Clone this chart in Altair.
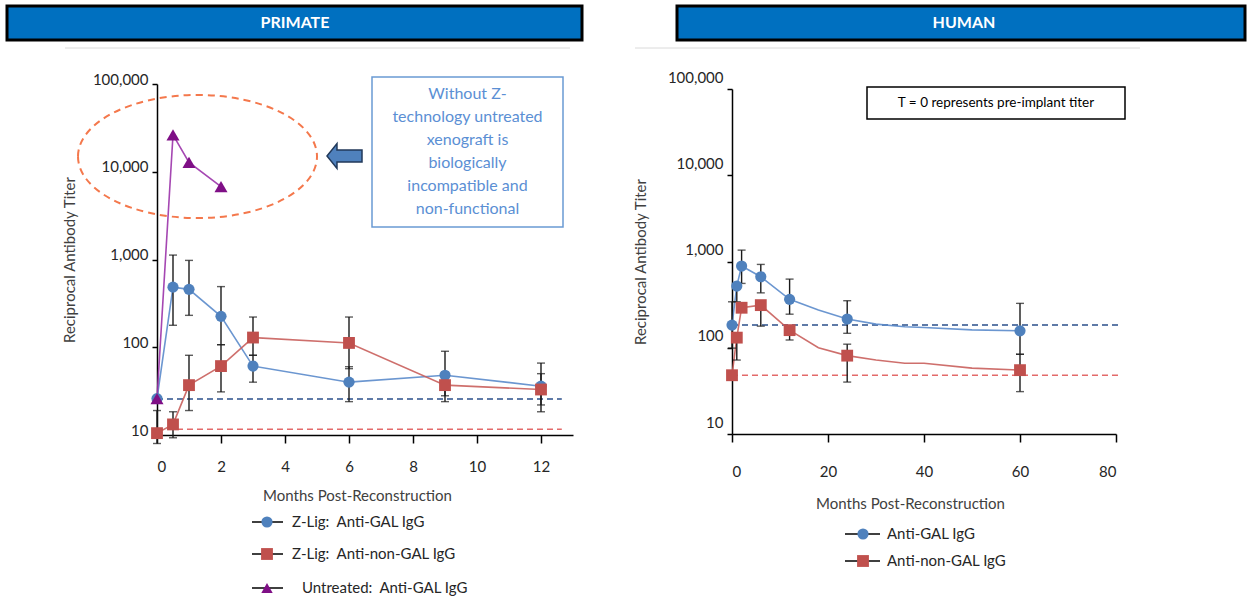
import altair as alt
import pandas as pd

# ---------------- PRIMATE panel data ----------------
p_months = [0, 0.5, 1, 2, 3, 6, 9, 12]
p_gal = [26, 484, 457, 225, 61, 40, 48, 36]
p_gal_lo = [26, 178, 231, 107, 40, 24, 28, 22]
p_gal_hi = [26, 1123, 977, 491, 81, 60, 90, 66]
p_nongal = [10.5, 13.2, 37, 61, 129, 112, 37, 33]
p_nongal_lo = [8, 9.3, 19, 31, 81, 57, 24, 18.4]
p_nongal_hi = [19, 18.4, 81, 107, 221, 221, 52, 50]
u_months = [0, 0.5, 1, 2]
u_gal = [26, 26300, 12800, 6760]
p_baselines = [25.7, 11.6]          # Anti-GAL, Anti-non-GAL pre-implant levels
p_baseline_span = [0, 12.65]
p_xticks = [0, 2, 4, 6, 8, 10, 12]
p_legend = ["Z-Lig:\u00a0 Anti-GAL IgG", "Z-Lig:\u00a0 Anti-non-GAL IgG", "Untreated:\u00a0 Anti-GAL IgG"]

# ---------------- HUMAN panel data ----------------
h_months = [0, 1, 2, 6, 12, 24, 60]
h_gal = [183, 519, 885, 665, 364, 215, 157]
h_gal_lo = [99, 341, 557, 433, 245, 147, 84]
h_gal_hi = [341, 519, 1355, 925, 625, 351, 327]
h_nongal = [48, 131, 291, 312, 160, 81, 55]
h_nongal_lo = [48, 72, 291, 178, 123, 40, 31]
h_nongal_hi = [48, 131, 291, 312, 160, 110, 84]
h_path_months = [0, 1, 2, 6, 12, 18, 24, 30, 36, 40, 50, 60]
h_gal_path = [183, 519, 885, 665, 364, 274, 215, 188, 175, 172, 161, 157]
h_nongal_path = [48, 131, 291, 312, 160, 100, 81, 72, 66, 66, 58, 55]
h_baselines = [183, 48]
h_baseline_span = [0, 81]
h_xticks = [0, 20, 40, 60, 80]
h_legend = ["Anti-GAL IgG", "Anti-non-GAL IgG"]

y_ticks = [10, 100, 1000, 10000, 100000]

BLUE = "#4F81BD"
RED = "#C0504D"
PURPLE = "#7F0F86"
PURPLE_LINE = "#9B33AA"
FONT = "Lato"
ERR = "#1a1a1a"

# ---------------- scales / axes ----------------
LX_SCALE = alt.Scale(domain=[0, 13], range=[157, 573], nice=False, zero=False)
LY_SCALE = alt.Scale(type="log", domain=[10, 100000], range=[435, 84], nice=False)
RX_SCALE = alt.Scale(domain=[0, 80], range=[732, 1116], nice=False, zero=False)
RY_SCALE = alt.Scale(type="log", domain=[10, 100000], range=[434, 89], nice=False)

LX_AXIS = alt.Axis(orient="bottom", values=p_xticks, title="Months Post-Reconstruction",
                   titleX=357, titleY=60, titleBaseline="middle", labelPadding=16, tickSize=8,
                   grid=False)
LY_AXIS = alt.Axis(orient="left", offset=-157, values=y_ticks, format=",",
                   title="Reciprocal Antibody Titer", titleX=-88, titleBaseline="middle",
                   labelOffset=-5, labelPadding=4, tickSize=5, grid=False)
RX_AXIS = alt.Axis(orient="bottom", offset=-1, values=h_xticks, title="Months Post-Reconstruction",
                   titleX=910, titleY=69, titleBaseline="middle", labelPadding=22, tickSize=8,
                   grid=False)
RY_AXIS = alt.Axis(orient="left", offset=-732, values=y_ticks, format=",",
                   title="Reciprocal Antibody Titer", titleX=-92, titleBaseline="middle",
                   labelOffset=-12, labelPadding=4, tickSize=5, grid=False)


def LX(f):
    return alt.X(f, type="quantitative", scale=LX_SCALE, axis=LX_AXIS)


def LY(f):
    return alt.Y(f, type="quantitative", scale=LY_SCALE, axis=LY_AXIS)


def RX(f):
    return alt.X(f, type="quantitative", scale=RX_SCALE, axis=RX_AXIS)


def RY(f):
    return alt.Y(f, type="quantitative", scale=RY_SCALE, axis=RY_AXIS)


def line_layer(df, X, Y, color):
    return alt.Chart(df).mark_line(color=color, strokeWidth=1.6, opacity=0.9).encode(
        x=X("month"), y=Y("v"), order="month:Q")


def err_layers(df, X, Y):
    layers = [alt.Chart(df).mark_rule(color=ERR, strokeWidth=1.4)
              .encode(x=X("month"), y=Y("lo"), y2="hi")]
    for f in ["lo", "hi"]:
        layers.append(alt.Chart(df).mark_tick(orient="horizontal", size=8, thickness=1.4, color=ERR)
                      .encode(x=X("month"), y=Y(f)))
    return layers


def point_layer(df, X, Y, color, shape, size):
    return alt.Chart(df).mark_point(shape=shape, filled=True, size=size, color=color, opacity=1).encode(
        x=X("month"), y=Y("v"))


def baseline_layer(span, value, color, X, Y):
    df = pd.DataFrame({"x0": [span[0]], "x1": [span[1]], "v": [value]})
    return alt.Chart(df).mark_rule(color=color, strokeWidth=1.5, strokeDash=[6, 4]).encode(
        x=X("x0"), x2="x1", y=Y("v"))


one = pd.DataFrame({"k": [0]})


def legend_item(label, shape, color, size, mx, tx, y, x0, x1):
    return [
        alt.Chart(one).mark_rule(color="black", strokeWidth=1.5).encode(
            x=alt.value(x0), x2=alt.value(x1), y=alt.value(y)),
        alt.Chart(one).mark_point(shape=shape, filled=True, size=size, color=color, opacity=1).encode(
            x=alt.value(mx), y=alt.value(y)),
        alt.Chart(one).mark_text(align="left", baseline="middle", fontSize=15, font=FONT,
                                 color="#262626").encode(
            x=alt.value(tx), y=alt.value(y), text=alt.value(label)),
    ]


# ---------------- PRIMATE layers ----------------
pg = pd.DataFrame({"month": p_months, "v": p_gal, "lo": p_gal_lo, "hi": p_gal_hi})
pn = pd.DataFrame({"month": p_months, "v": p_nongal, "lo": p_nongal_lo, "hi": p_nongal_hi})
pu = pd.DataFrame({"month": u_months, "v": u_gal})

left_layers = [
    baseline_layer(p_baseline_span, p_baselines[0], "#2A4F8A", LX, LY),
    baseline_layer(p_baseline_span, p_baselines[1], "#E36A6A", LX, LY),
    line_layer(pg, LX, LY, "#5B8BCB"),
    line_layer(pn, LX, LY, "#C95F5C"),
    line_layer(pu, LX, LY, PURPLE_LINE),
]
left_layers += err_layers(pg, LX, LY)
left_layers += err_layers(pn, LX, LY)
left_layers += [
    point_layer(pg, LX, LY, BLUE, "circle", 125),
    point_layer(pn, LX, LY, RED, "square", 140),
    point_layer(pu, LX, LY, PURPLE, "triangle-up", 170),
]
left = alt.layer(*left_layers)

# ---------------- HUMAN layers ----------------
hg = pd.DataFrame({"month": h_months, "v": h_gal, "lo": h_gal_lo, "hi": h_gal_hi})
hn = pd.DataFrame({"month": h_months, "v": h_nongal, "lo": h_nongal_lo, "hi": h_nongal_hi})
hg_path = pd.DataFrame({"month": h_path_months, "v": h_gal_path})
hn_path = pd.DataFrame({"month": h_path_months, "v": h_nongal_path})

right_layers = [
    baseline_layer(h_baseline_span, h_baselines[0], "#2A4F8A", RX, RY),
    baseline_layer(h_baseline_span, h_baselines[1], "#E36A6A", RX, RY),
    line_layer(hg_path, RX, RY, "#5B8BCB"),
    line_layer(hn_path, RX, RY, "#C95F5C"),
]
right_layers += err_layers(hg, RX, RY)
right_layers += err_layers(hn, RX, RY)
right_layers += [
    point_layer(hg, RX, RY, BLUE, "circle", 125),
    point_layer(hn, RX, RY, RED, "square", 140),
]
right = alt.layer(*right_layers)

# ---------------- annotations ----------------
ellipse_path = "M -1 0 A 1 0.515 0 1 1 1 0 A 1 0.515 0 1 1 -1 0 Z"
arrow_path = "M -1 0 L -0.43 -0.71 L -0.43 -0.34 L 1 -0.34 L 1 0.34 L -0.43 0.34 L -0.43 0.71 Z"

annot = [
    # headers
    alt.Chart(one).mark_rect(fill="#0070C0", stroke="black", strokeWidth=3).encode(
        x=alt.value(7), x2=alt.value(582), y=alt.value(6), y2=alt.value(40)),
    alt.Chart(one).mark_text(color="white", fontWeight="bold", fontSize=16, font=FONT,
                             baseline="middle").encode(
        x=alt.value(295), y=alt.value(23), text=alt.value("PRIMATE")),
    alt.Chart(one).mark_rect(fill="#0070C0", stroke="black", strokeWidth=3).encode(
        x=alt.value(677), x2=alt.value(1245), y=alt.value(6), y2=alt.value(40)),
    alt.Chart(one).mark_text(color="white", fontWeight="bold", fontSize=16, font=FONT,
                             baseline="middle").encode(
        x=alt.value(964), y=alt.value(23), text=alt.value("HUMAN")),
    # faint chart-area top borders
    alt.Chart(one).mark_rule(color="#DADADA", strokeWidth=1).encode(
        x=alt.value(65), x2=alt.value(570), y=alt.value(48)),
    alt.Chart(one).mark_rule(color="#DADADA", strokeWidth=1).encode(
        x=alt.value(635), x2=alt.value(1140), y=alt.value(48)),
    # ellipse highlight
    alt.Chart(one).mark_point(shape=ellipse_path, size=239 * 239, filled=False, stroke="#F4784C",
                              strokeWidth=2, strokeDash=[7, 5], opacity=1).encode(
        x=alt.value(197.5), y=alt.value(156.5)),
    # block arrow
    alt.Chart(one).mark_point(shape=arrow_path, size=35 * 35, filled=True, fill=BLUE,
                              stroke="#22395A", strokeWidth=1.5, opacity=1).encode(
        x=alt.value(344.5), y=alt.value(156)),
    # text box
    alt.Chart(one).mark_rect(fill="white", stroke="#6A9AD3", strokeWidth=1.5).encode(
        x=alt.value(372), x2=alt.value(563), y=alt.value(77), y2=alt.value(227)),
    alt.Chart(one).mark_text(lineBreak="\n", lineHeight=23, align="center", baseline="middle",
                             fontSize=16, font=FONT, color="#5B8FD4").encode(
        x=alt.value(467.5), y=alt.value(93.5),
        text=alt.value("Without Z-\ntechnology untreated\nxenograft is\nbiologically\n"
                       "incompatible and\nnon-functional")),
    # human note box
    alt.Chart(one).mark_rect(fill="white", stroke="black", strokeWidth=1.5).encode(
        x=alt.value(867), x2=alt.value(1125), y=alt.value(87), y2=alt.value(119)),
    alt.Chart(one).mark_text(align="center", baseline="middle", fontSize=13.5, font=FONT,
                             color="black").encode(
        x=alt.value(996), y=alt.value(103), text=alt.value("T = 0 represents pre-implant titer")),
]

# legends
annot += legend_item(p_legend[0], "circle", BLUE, 125, 267, 292, 522, 252, 283)
annot += legend_item(p_legend[1], "square", RED, 140, 267, 292, 554, 252, 283)
annot += legend_item(p_legend[2], "triangle-up", PURPLE, 130, 267, 302, 588, 252, 283)
annot += legend_item(h_legend[0], "circle", BLUE, 125, 863, 887, 534, 845, 880)
annot += legend_item(h_legend[1], "square", RED, 140, 863, 887, 561, 845, 880)

chart = alt.layer(left, right, *annot).resolve_scale(x="independent", y="independent").properties(
    width=1250, height=435,
    autosize=alt.AutoSizeParams(type="none"),
    padding={"left": 0, "right": 0, "top": 0, "bottom": 164},
    background="white",
).configure_view(strokeWidth=0).configure_axis(
    labelFont=FONT, titleFont=FONT, labelFontSize=15, titleFontSize=15,
    labelColor="#262626", titleColor="#404040", titleFontWeight="normal",
    domainColor="black", tickColor="black", domainWidth=1.5, tickWidth=1.5,
)

chart.save("out.html", embed_options={"renderer": "svg", "actions": False})
